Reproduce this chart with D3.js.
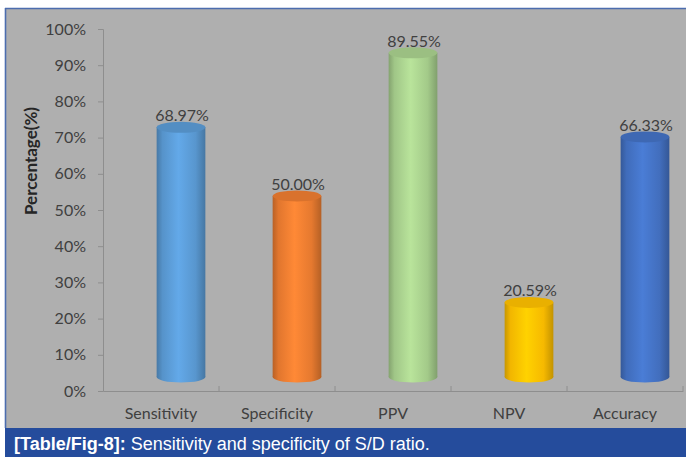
<!DOCTYPE html>
<html>
<head>
<meta charset="utf-8">
<script src="https://cdn.jsdelivr.net/npm/d3@7/dist/d3.min.js"></script>
<style>
  html, body { margin: 0; padding: 0; background: #ffffff; }
  svg { display: block; }
</style>
</head>
<body>
<svg id="chart" width="686" height="457"></svg>
<script>
// Diagnostic performance of the S/D ratio
const categories = ["Sensitivity", "Specificity", "PPV", "NPV", "Accuracy"];
const values = [68.97, 50.00, 89.55, 20.59, 66.33];
const barColors = ["#5b9bd5", "#ed7d31", "#a9d18e", "#ffc000", "#4472c4"];
const yTicks = [0, 10, 20, 30, 40, 50, 60, 70, 80, 90, 100];
const yTitle = "Percentage(%)";
const captionBold = "[Table/Fig-8]:";
const captionText = " Sensitivity and specificity of S/D ratio.";

const W = 686, H = 457;
const svg = d3.select("#chart");
const defs = svg.append("defs");

// frame: white margin, blue rule on top and left, grey plot panel
svg.append("rect").attr("x", 0).attr("y", 0).attr("width", W).attr("height", H).attr("fill", "#ffffff");
svg.append("rect").attr("x", 5).attr("y", 8).attr("width", W - 5).attr("height", 420).attr("fill", "#afafaf");
svg.append("line").attr("x1", 5).attr("x2", W).attr("y1", 8.5).attr("y2", 8.5)
  .attr("stroke", "#4c6dae").attr("stroke-width", 1.6);
svg.append("line").attr("x1", 5.5).attr("x2", 5.5).attr("y1", 8).attr("y2", 428)
  .attr("stroke", "#4c6dae").attr("stroke-width", 1.6);

const plot = { left: 103, right: 683, top: 29, bottom: 391 };

const x = d3.scaleBand().domain(categories).range([plot.left, plot.right]).padding(0);
const y = d3.scaleLinear().domain([0, 100]).range([plot.bottom, plot.top]);

// 3D depth offset of the columns
const depthX = 20, depthY = -14;
const barW = x.bandwidth() * 0.42;
const rx = barW / 2, ry = 5.5;

// y axis
const yAxis = d3.axisLeft(y).tickValues(yTicks).tickSize(5).tickPadding(12)
  .tickFormat(d => d + "%");
const gy = svg.append("g").attr("transform", `translate(${plot.left},0)`).call(yAxis);
gy.select(".domain").attr("stroke", "#8e8e8e");
gy.selectAll(".tick line").attr("stroke", "#8e8e8e");
gy.selectAll(".tick text").attr("fill", "#404040")
  .style("font-family", "Lato, 'Open Sans', sans-serif").style("font-size", "16px");

// x axis
const xAxis = d3.axisBottom(x).tickSize(0).tickPadding(17);
const gx = svg.append("g").attr("transform", `translate(0,${plot.bottom})`).call(xAxis);
gx.select(".domain").attr("stroke", "#8e8e8e");
gx.selectAll(".tick text").attr("fill", "#404040")
  .style("font-family", "Lato, 'Open Sans', sans-serif").style("font-size", "16px");
// category separators
gx.selectAll(".sep").data(categories.slice(1).concat(["__end"]))
  .enter().append("line")
  .attr("x1", (d, i) => i < categories.length - 1 ? x(d) : plot.right)
  .attr("x2", (d, i) => i < categories.length - 1 ? x(d) : plot.right)
  .attr("y1", 0).attr("y2", -5).attr("stroke", "#8e8e8e");

// y axis title
svg.append("text")
  .attr("transform", `translate(37,${161}) rotate(-90)`)
  .attr("text-anchor", "middle")
  .attr("fill", "#262626")
  .style("font-family", "Lato, 'Open Sans', sans-serif")
  .style("font-weight", "bold").style("font-size", "17px")
  .text(yTitle);

// gradients for cylinder bodies
categories.forEach((c, i) => {
  const base = d3.color(barColors[i]);
  const g = defs.append("linearGradient").attr("id", "body" + i)
    .attr("x1", "0%").attr("x2", "100%").attr("y1", "0%").attr("y2", "0%");
  g.append("stop").attr("offset", "0%").attr("stop-color", base.darker(0.7));
  g.append("stop").attr("offset", "12%").attr("stop-color", base.darker(0.15));
  g.append("stop").attr("offset", "45%").attr("stop-color", base.brighter(0.25));
  g.append("stop").attr("offset", "80%").attr("stop-color", base.darker(0.1));
  g.append("stop").attr("offset", "100%").attr("stop-color", base.darker(0.75));
});

const bars = svg.append("g").selectAll("g.bar")
  .data(categories.map((c, i) => ({ c, v: values[i], i })))
  .enter().append("g").attr("class", "bar");

const cx = d => x(d.c) + x.bandwidth() / 2 + depthX;
const baseY = () => y(0) + depthY;
const topY = d => y(d.v) + depthY;

// bottom cap
bars.append("ellipse")
  .attr("cx", cx).attr("cy", baseY).attr("rx", rx).attr("ry", ry)
  .attr("fill", d => `url(#body${d.i})`);
// body
bars.append("rect")
  .attr("x", d => cx(d) - rx).attr("y", topY)
  .attr("width", barW).attr("height", d => baseY() - topY(d))
  .attr("fill", d => `url(#body${d.i})`);
// top cap
bars.append("ellipse")
  .attr("cx", cx).attr("cy", topY).attr("rx", rx).attr("ry", ry)
  .attr("fill", d => d3.color(barColors[d.i]).darker(0.25));

// value labels
bars.append("text")
  .attr("x", d => cx(d) + 1).attr("y", d => topY(d) - 6)
  .attr("text-anchor", "middle").attr("fill", "#404040")
  .style("font-family", "Lato, 'Open Sans', sans-serif").style("font-size", "16px")
  .text(d => d.v.toFixed(2) + "%");

// caption bar
svg.append("rect").attr("x", 5).attr("y", 428).attr("width", W - 5).attr("height", H - 428)
  .attr("fill", "#254c9c");
const cap = svg.append("text").attr("x", 14).attr("y", 450)
  .attr("fill", "#ffffff")
  .style("font-family", "'Liberation Sans', Arial, sans-serif").style("font-size", "18px");
cap.append("tspan").style("font-weight", "bold").text(captionBold);
cap.append("tspan").text(captionText);
</script>
</body>
</html>
